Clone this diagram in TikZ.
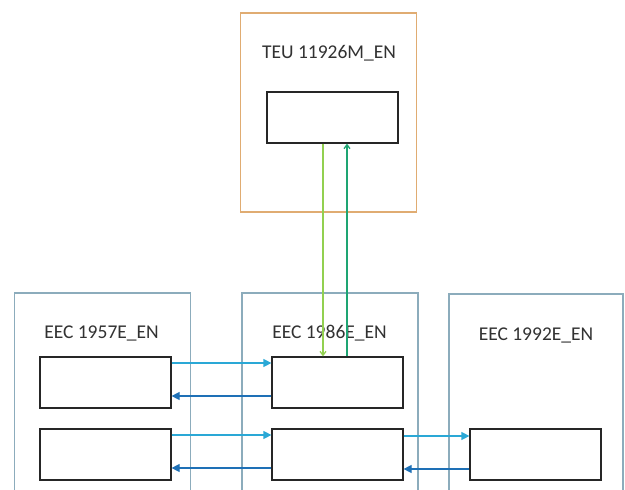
\documentclass[tikz,border=0pt]{standalone}
\usepackage{fontspec}
\setmainfont{Carlito}
\usetikzlibrary{arrows.meta, positioning}

\definecolor{teuline}{RGB}{224,172,114}
\definecolor{eecline}{RGB}{140,172,188}
\definecolor{fwdblue}{RGB}{42,168,214}
\definecolor{backblue}{RGB}{30,112,182}
\definecolor{downgreen}{RGB}{146,208,80}
\definecolor{upgreen}{RGB}{30,165,115}
\definecolor{textgray}{RGB}{50,50,50}

\tikzset{
  frame/.style={draw, line width=1.1pt, minimum width=176pt, inner sep=0pt},
  unitbox/.style={draw=black!85, line width=1.2pt, minimum width=131pt, minimum height=51pt, inner sep=0pt},
  title/.style={font=\fontsize{19.5}{22}\selectfont, text=textgray},
  fwd/.style={draw=fwdblue, line width=1.2pt, -{Triangle[length=8pt,width=8pt]}},
  back/.style={draw=backblue, line width=1.2pt, -{Triangle[length=8pt,width=8pt]}},
  vlink/.style={line width=1.3pt, -{Straight Barb[length=4pt,width=6pt]}},
}

\begin{document}
\begin{tikzpicture}[x=1pt, y=-1pt]
\clip (0,0) rectangle (625,490);
\fill [white] (0,0) rectangle (625,490);
% outer frames
\node (teuframe) at (328.5,112.5) [frame, draw=teuline, minimum height=199pt] {};
\node (leftframe) at (102.5,401.5) [frame, draw=eecline, minimum height=217pt] {};
\node (midframe) at (330,401.5) [frame, draw=eecline, minimum height=217pt] {};
\node (rightframe) at (536,402) [frame, draw=eecline, minimum width=174pt, minimum height=216pt] {};
% titles
\node (teutitle) at (329,53) [title] {TEU 11926M\_EN};
\node (lefttitle) at (101.5,333) [title] {EEC 1957E\_EN};
\node (midtitle) at (329.5,333) [title] {EEC 1986E\_EN};
\node (righttitle) at (536,335) [title] {EEC 1992E\_EN};
% inner boxes
\node (teu) at (332.5,117.5) [unitbox] {};
\node (left1) at (105.5,382.5) [unitbox] {};
\node (left2) at (105.5,454.5) [unitbox] {};
\node (mid1) at (337.5,382.5) [unitbox] {};
\node (mid2) at (337.5,454.5) [unitbox] {};
\node (right2) at (535.5,454.5) [unitbox] {};
% links between units
\draw [fwd] ([yshift=19.5pt]left1.east) -- ([yshift=19.5pt]mid1.west);
\draw [back] ([yshift=-13.5pt]mid1.west) -- ([yshift=-13.5pt]left1.east);
\draw [fwd] ([yshift=19.5pt]left2.east) -- ([yshift=19.5pt]mid2.west);
\draw [back] ([yshift=-13.5pt]mid2.west) -- ([yshift=-13.5pt]left2.east);
\draw [fwd] ([yshift=18.5pt]mid2.east) -- ([yshift=18.5pt]right2.west);
\draw [back] ([yshift=-14.5pt]right2.west) -- ([yshift=-14.5pt]mid2.east);
\draw [vlink, downgreen] ([xshift=-9.5pt]teu.south) -- ([xshift=-9.5pt]teu.south |- mid1.north);
\draw [vlink, upgreen] ([xshift=9.5pt]mid1.north) -- ([xshift=9.5pt]mid1.north |- teu.south);
\end{tikzpicture}
\end{document}
